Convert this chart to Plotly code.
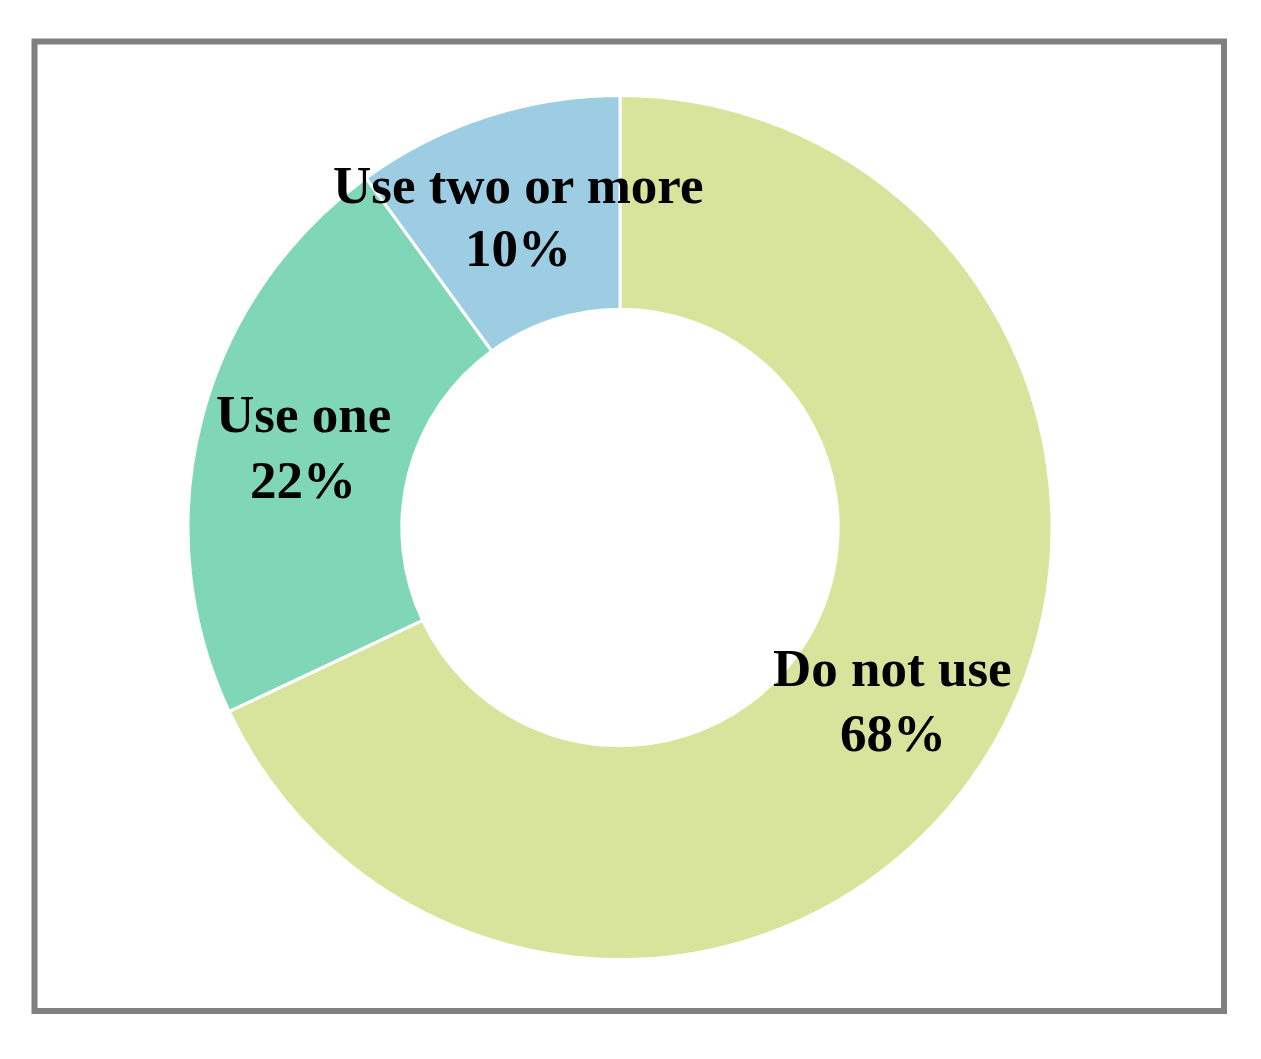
import plotly.graph_objects as go

# ---------------------------------------------------------------------------
# Data
# ---------------------------------------------------------------------------

categories = ["Do not use", "Use one", "Use two or more"]
shares = [68, 22, 10]
slice_colors = ["#D8E39B", "#80D7B7", "#9DCDE3"]

W, H = 1261, 1059
OFF = 8  # page body margin pushes the plot 8px right/down
FONT = "Liberation Serif, Times New Roman, serif"


def px_x(x):
    return (x - OFF) / W


def px_y(y):
    return 1 - (y - OFF) / H


# label positions (screen px): name line / percent line
label_x = [893, 303, 518]
name_y = [668, 414, 185]
pct_y = [733, 480, 248]

fig = go.Figure()

fig.add_trace(go.Pie(
    labels=categories,
    values=shares,
    hole=0.505,
    sort=False,
    direction="clockwise",
    rotation=0,
    marker=dict(colors=slice_colors, line=dict(color="white", width=3)),
    textinfo="none",
    hoverinfo="label+percent",
    showlegend=False,
    domain=dict(x=[px_x(188), px_x(1052)], y=[px_y(960), px_y(95)]),
))

annotations = []
for name, val, x, y1, y2 in zip(categories, shares, label_x, name_y, pct_y):
    for txt, y in ((name, y1), (f"{val}%", y2)):
        annotations.append(dict(
            x=px_x(x), y=px_y(y), xref="paper", yref="paper",
            text=f"<b>{txt}</b>",
            showarrow=False, xanchor="center", yanchor="middle",
            font=dict(family=FONT, size=53, color="black"),
        ))

fig.update_layout(
    width=W,
    height=H,
    margin=dict(l=0, r=0, t=0, b=0),
    paper_bgcolor="white",
    plot_bgcolor="white",
    annotations=annotations,
    shapes=[dict(
        type="rect", xref="paper", yref="paper",
        x0=px_x(34.5), x1=px_x(1224), y0=px_y(1011), y1=px_y(41.5),
        line=dict(color="#808080", width=6),
        fillcolor="rgba(0,0,0,0)",
        layer="below",
    )],
)

fig.write_html("out.html")
